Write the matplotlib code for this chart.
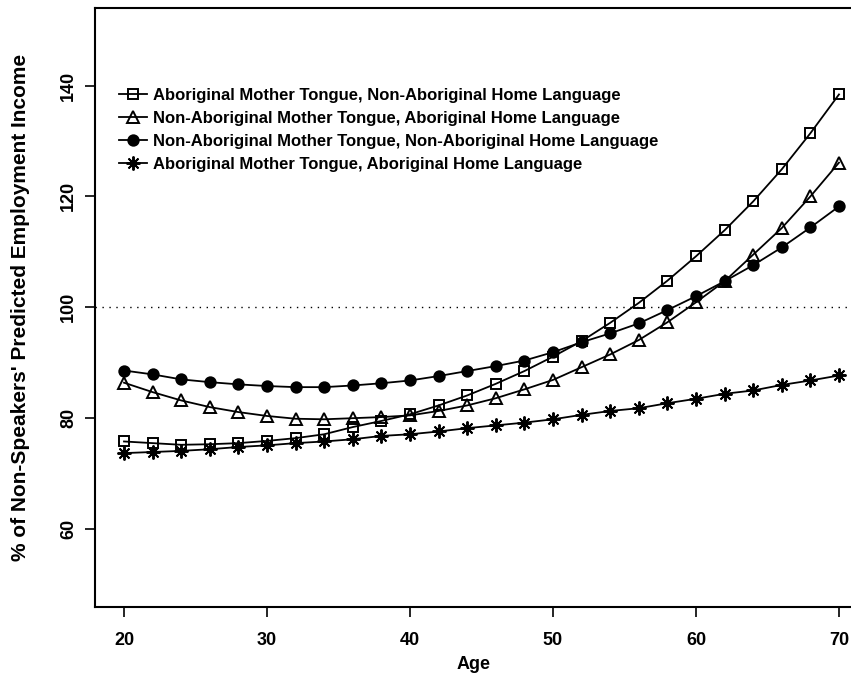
import matplotlib.pyplot as plt
import numpy as np

plt.rcParams['font.family'] = ['Liberation Sans', 'DejaVu Sans']
plt.rcParams['font.weight'] = 'bold'
plt.rcParams['axes.labelweight'] = 'bold'

age = np.arange(20, 71, 2)

amt_nahl = [75.8, 75.5, 75.2, 75.3, 75.5, 75.9, 76.4, 77.1, 78.4, 79.5,
            80.7, 82.3, 84.1, 86.2, 88.5, 91.1, 93.9, 97.2, 100.8, 104.8,
            109.2, 113.9, 119.1, 124.9, 131.4, 138.4]
namt_ahl = [86.4, 84.7, 83.2, 82.0, 81.1, 80.4, 79.9, 79.8, 80.0, 80.2,
            80.5, 81.3, 82.3, 83.6, 85.2, 86.9, 89.2, 91.5, 94.1, 97.3,
            100.9, 104.7, 109.5, 114.3, 120.0, 126.1]
namt_nahl = [88.6, 87.9, 87.0, 86.5, 86.1, 85.8, 85.6, 85.6, 85.9, 86.3,
             86.8, 87.6, 88.5, 89.4, 90.4, 91.9, 93.7, 95.3, 97.1, 99.5,
             102.0, 104.7, 107.6, 110.8, 114.4, 118.2]
amt_ahl = [73.7, 73.9, 74.1, 74.4, 74.8, 75.1, 75.5, 75.8, 76.2, 76.8,
           77.1, 77.6, 78.2, 78.7, 79.2, 79.8, 80.6, 81.3, 81.8, 82.7,
           83.5, 84.4, 85.0, 86.0, 86.8, 87.7]

labels = ["Aboriginal Mother Tongue, Non-Aboriginal Home Language",
          "Non-Aboriginal Mother Tongue, Aboriginal Home Language",
          "Non-Aboriginal Mother Tongue, Non-Aboriginal Home Language",
          "Aboriginal Mother Tongue, Aboriginal Home Language"]

fig = plt.figure(figsize=(8.51, 6.74), dpi=100)
# plot area runs off the right edge, so the right side of the box is not shown
ax = fig.add_axes([0.1121, 0.0999, 0.8879, 0.8883])

kw = dict(color='black', lw=1.3, mew=1.4, clip_on=False)
ax.plot(age, amt_nahl, marker='s', ms=7, mfc='none', label=labels[0], **kw)
ax.plot(age, namt_ahl, marker='^', ms=9, mfc='none', label=labels[1], **kw)
ax.plot(age, namt_nahl, marker='o', ms=7.5, mfc='black', label=labels[2], **kw)
ax.plot(age, amt_ahl, marker=(8, 2, 0), ms=10, label=labels[3], **kw)

ax.axhline(100, color='black', lw=1.0, ls=(0, (1, 4)))

ax.set_xlim(18, 70.84)
ax.set_ylim(46, 154)
ax.set_xticks([20, 30, 40, 50, 60, 70])
ax.set_yticks([60, 80, 100, 120, 140])
ax.tick_params(length=7, width=1.2, labelsize=13, pad=11)
ax.tick_params(axis='y', pad=6)
for t in ax.get_yticklabels():
    t.set_rotation(90)
    t.set_va('center')
for s in ax.spines.values():
    s.set_linewidth(1.5)
ax.spines['right'].set_visible(False)

ax.set_xlabel("Age", fontsize=13, labelpad=5)
ax.set_ylabel("% of Non-Speakers' Predicted Employment Income", fontsize=15, labelpad=22)

ax.legend(loc='upper left', bbox_to_anchor=(0.022, 0.878), frameon=False,
          fontsize=12, handlelength=1.7, handletextpad=0.35, labelspacing=0.48,
          borderaxespad=0)

fig.savefig("out.png", dpi=100)
